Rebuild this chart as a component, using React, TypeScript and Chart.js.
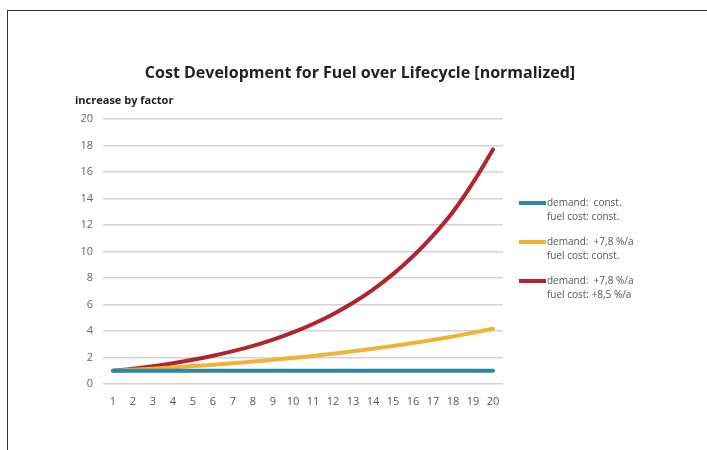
import React, { useEffect, useRef } from "react";
import { Chart, registerables } from "chart.js";

Chart.register(...registerables);

const categories = ["1","2","3","4","5","6","7","8","9","10","11","12","13","14","15","16","17","18","19","20"];
const constConst = [1,1,1,1,1,1,1,1,1,1,1,1,1,1,1,1,1,1,1,1];
const demandOnly = [1.0,1.08,1.16,1.25,1.35,1.46,1.57,1.69,1.83,1.97,2.12,2.29,2.47,2.66,2.87,3.09,3.33,3.59,3.87,4.17];
const demandAndCost = [1.0,1.16,1.35,1.57,1.83,2.13,2.48,2.88,3.35,3.9,4.53,5.27,6.13,7.13,8.29,9.64,11.2,13.0,15.2,17.7];

const seriesLabels: string[][] = [
  ["demand:  const.", "fuel cost: const."],
  ["demand:  +7,8 %/a", "fuel cost: const."],
  ["demand:  +7,8 %/a", "fuel cost: +8,5 %/a"],
];
const seriesColors = ["#2d87a6", "#efb33a", "#b1262e"];

const chartTitle = "Cost Development for Fuel over Lifecycle [normalized]";
const yAxisTitle = "increase by factor";

const FONT = "'Open Sans', 'Noto Sans', sans-serif";

export default function App() {
  const ref = useRef<HTMLCanvasElement | null>(null);

  useEffect(() => {
    if (!ref.current) return;
    const overlay = {
      id: "overlay",
      afterDraw(chart: any) {
        const ctx = chart.ctx;
        const area = chart.chartArea;
        ctx.save();
        ctx.fillStyle = "#222";
        ctx.textAlign = "center";
        ctx.textBaseline = "middle";
        ctx.font = `bold 16px ${FONT}`;
        ctx.fillText(chartTitle, 360, 73);
        ctx.textAlign = "left";
        ctx.font = `bold 11px ${FONT}`;
        ctx.fillText(yAxisTitle, 75, 101);
        // legend
        const lx = area.right + 16;
        const startY = 203;
        const gap = 39;
        chart.data.datasets.forEach((ds: any, i: number) => {
          const y = startY + i * gap;
          ctx.strokeStyle = ds.borderColor;
          ctx.lineWidth = 4;
          ctx.beginPath();
          ctx.moveTo(lx, y);
          ctx.lineTo(lx + 27, y);
          ctx.stroke();
          ctx.fillStyle = "#555";
          ctx.font = `10px ${FONT}`;
          ctx.textBaseline = "middle";
          const lines: string[] = seriesLabels[i];
          lines.forEach((t, j) => {
            ctx.fillText(t, lx + 28, y + j * 14);
          });
        });
        ctx.restore();
      },
    };

    const chart = new Chart(ref.current, {
      type: "line",
      data: {
        labels: categories,
        datasets: [
          { label: seriesLabels[0].join(" "), data: constConst, borderColor: seriesColors[0], backgroundColor: seriesColors[0] },
          { label: seriesLabels[1].join(" "), data: demandOnly, borderColor: seriesColors[1], backgroundColor: seriesColors[1] },
          { label: seriesLabels[2].join(" "), data: demandAndCost, borderColor: seriesColors[2], backgroundColor: seriesColors[2] },
        ].map((d) => ({ ...d, borderWidth: 4, pointRadius: 0, tension: 0.4, fill: false, borderCapStyle: "round" as const })),
      },
      options: {
        animation: false,
        responsive: false,
        maintainAspectRatio: false,
        layout: { padding: { left: 50, right: 204, top: 119, bottom: 36 } },
        plugins: { legend: { display: false }, title: { display: false }, tooltip: { enabled: false } },
        scales: {
          x: {
            offset: true,
            grid: { display: false, drawTicks: false },
            border: { display: false },
            ticks: { color: "#555", font: { family: FONT, size: 11 }, padding: 11, autoSkip: false, maxRotation: 0 },
            afterFit(scale: any) { scale.height = 30; },
          },
          y: {
            min: 0,
            max: 20,
            ticks: { stepSize: 2, color: "#666", font: { family: FONT, size: 11 }, padding: 10 },
            grid: { color: "#d4d4d4", lineWidth: 1.5, drawTicks: false },
            border: { display: false },
            afterFit(scale: any) { scale.width = 53; },
          },
        },
      },
      plugins: [overlay],
    });
    return () => chart.destroy();
  }, []);

  return (
    <div style={{ position: "fixed", left: 0, top: 0, width: 707, height: 450, background: "#fff" }}>
      <canvas ref={ref} width={707} height={450} style={{ position: "absolute", left: 0, top: 0 }} />
      <div style={{ position: "absolute", left: 7, top: 10, width: 700, height: 440, borderTop: "1.5px solid #333", borderLeft: "1.5px solid #333", boxSizing: "border-box" }} />
    </div>
  );
}
